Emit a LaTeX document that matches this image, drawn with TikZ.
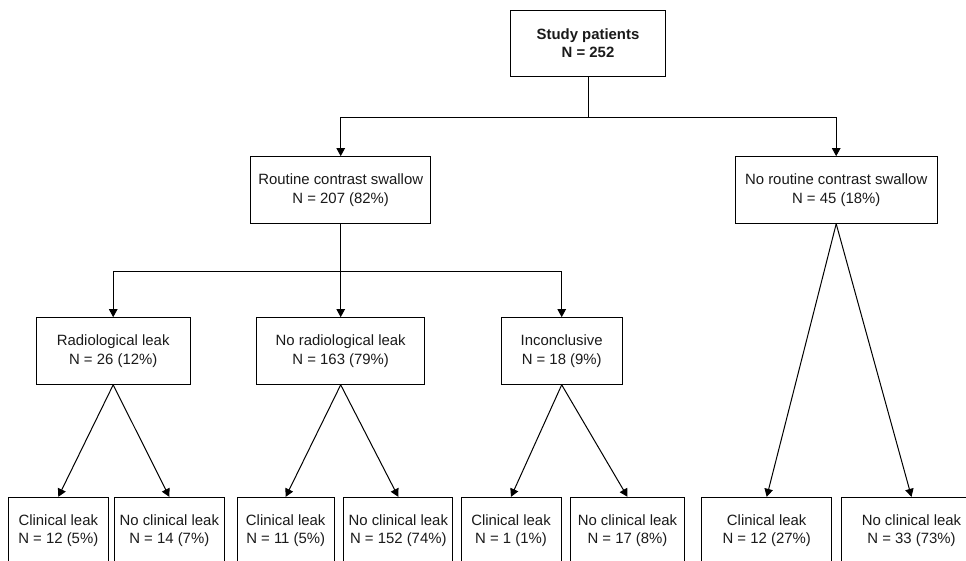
\documentclass[tikz,border=0pt]{standalone}
\usepackage{fontspec}
\setmainfont{Liberation Sans}
\usetikzlibrary{arrows.meta}
\definecolor{lineMain}{HTML}{000000}
\definecolor{textMain}{HTML}{1A1A1A}
\tikzset{
  box/.style={draw=lineMain, line width=1pt, fill=white, align=center,
    minimum height=66.7pt, inner sep=2pt, text=textMain,
    font=\fontsize{14.9}{18.3}\selectfont},
  link/.style={draw=lineMain, line width=1pt},
  arrow/.style={link, -{Triangle[length=8pt,width=8.5pt]}},
}
\begin{document}
\begin{tikzpicture}[x=1pt, y=1pt]
  \clip (0,0) rectangle (966,-561);
  \fill[white] (0,0) rectangle (966,-561);
  % top and second level
  \node[box, minimum width=154.7pt] (study) at (588,-43.5) {\bfseries Study patients\\\bfseries N = 252};
  \node[box, minimum width=180pt] (routine) at (340.7,-190) {Routine contrast swallow\\N = 207 (82\%)};
  \node[box, minimum width=201.7pt] (noroutine) at (836.2,-190) {No routine contrast swallow\\N = 45 (18\%)};
  % swallow result
  \node[box, minimum width=153.7pt] (radio) at (113.2,-351) {Radiological leak\\N = 26 (12\%)};
  \node[box, minimum width=168.3pt] (noradio) at (340.7,-351) {No radiological leak\\N = 163 (79\%)};
  \node[box, minimum width=121.3pt] (inconc) at (561.7,-351) {Inconclusive\\N = 18 (9\%)};
  % clinical outcome
  \node[box, minimum width=100pt] (cl1) at (58.3,-530.7) {Clinical leak\\N = 12 (5\%)};
  \node[box, minimum width=110pt] (ncl1) at (169.3,-530.7) {No clinical leak\\N = 14 (7\%)};
  \node[box, minimum width=97.3pt] (cl2) at (285.7,-530.7) {Clinical leak\\N = 11 (5\%)};
  \node[box, minimum width=109.3pt] (ncl2) at (398.3,-530.7) {No clinical leak\\N = 152 (74\%)};
  \node[box, minimum width=100pt] (cl3) at (511,-530.7) {Clinical leak\\N = 1 (1\%)};
  \node[box, minimum width=113.6pt] (ncl3) at (627.5,-530.7) {No clinical leak\\N = 17 (8\%)};
  \node[box, minimum width=130pt] (cl4) at (766.7,-530.7) {Clinical leak\\N = 12 (27\%)};
  \node[box, minimum width=140pt] (ncl4) at (911.5,-530.7) {No clinical leak\\N = 33 (73\%)};
  % connectors
  \draw[link] (study.south) -- ++(0,-40.3) coordinate (split1);
  \draw[arrow] (split1) -| (routine.north);
  \draw[arrow] (split1) -| (noroutine.north);
  \draw[link] (routine.south) -- ++(0,-47.7) coordinate (split2);
  \draw[arrow] (split2) -| (radio.north);
  \draw[arrow] (split2) -- (noradio.north);
  \draw[arrow] (split2) -| (inconc.north);
  \foreach \from/\to in {radio/cl1, radio/ncl1, noradio/cl2, noradio/ncl2,
                         inconc/cl3, inconc/ncl3, noroutine/cl4, noroutine/ncl4}
    \draw[arrow] (\from.south) -- (\to.north);
\end{tikzpicture}
\end{document}
